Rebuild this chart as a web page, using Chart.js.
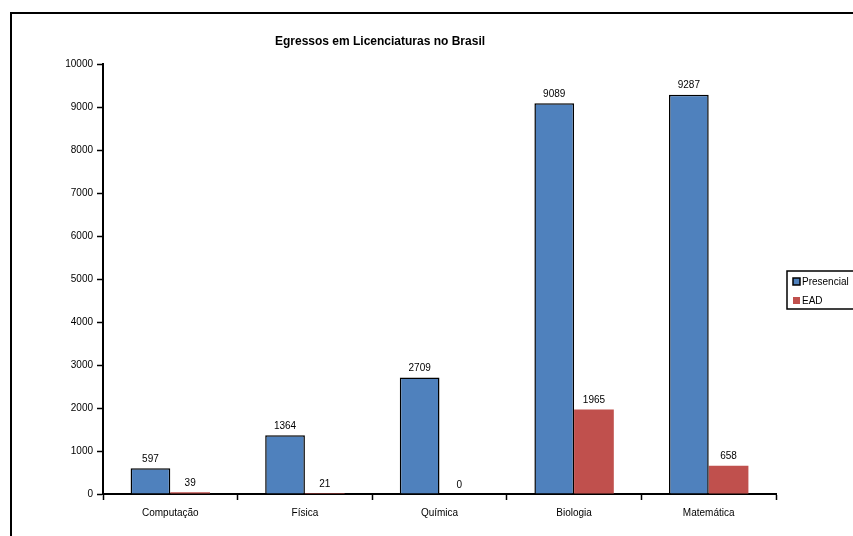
<!DOCTYPE html>
<html lang="pt">
<head>
    <meta charset="UTF-8">
    <title>Egressos em Licenciaturas no Brasil</title>
    <script src="https://cdn.jsdelivr.net/npm/chart.js"></script>
    <style>
        body { margin: 0; padding: 0; background: #fff; }
        .wrap { width: 853px; height: 536px; position: relative; }
    </style>
</head>
<body>
    <div class="wrap">
        <canvas id="chart" width="853" height="536"></canvas>
    </div>

    <script>
        var cursos = ['Computação', 'Física', 'Química', 'Biologia', 'Matemática'];
        var presencial = [597, 1364, 2709, 9089, 9287];
        var ead = [39, 21, 0, 1965, 658];
        var yTicks = [0, 1000, 2000, 3000, 4000, 5000, 6000, 7000, 8000, 9000, 10000];

        var FONT = "'Liberation Sans', Arial, sans-serif";

        // frame, title, value labels and the boxed legend
        var extras = {
            id: 'extras',
            beforeDraw: function(chart) {
                var c = chart.ctx;
                c.save();
                c.fillStyle = '#fff';
                c.fillRect(0, 0, chart.width, chart.height);
                c.strokeStyle = '#000';
                c.lineWidth = 2;
                c.strokeRect(11, 13, 900, 600);
                c.restore();
            },
            afterDatasetsDraw: function(chart) {
                var c = chart.ctx;
                c.save();
                c.fillStyle = '#000';
                c.font = 'bold 12px ' + FONT;
                c.textAlign = 'center';
                c.textBaseline = 'middle';
                c.fillText('Egressos em Licenciaturas no Brasil', 380, 42);

                c.font = '10px ' + FONT;
                c.textBaseline = 'bottom';
                chart.data.datasets.forEach(function(ds, i) {
                    chart.getDatasetMeta(i).data.forEach(function(bar, j) {
                        c.fillText(String(ds.data[j]), bar.x, bar.y - 4);
                    });
                });

                // legend
                c.lineWidth = 1.5;
                c.strokeStyle = '#000';
                c.strokeRect(787, 271, 80, 38);
                c.textAlign = 'left';
                c.textBaseline = 'middle';
                chart.data.datasets.forEach(function(ds, i) {
                    var y = 281 + i * 19;
                    c.fillStyle = ds.backgroundColor;
                    c.fillRect(793, y - 3, 7, 7);
                    if (ds.borderWidth) {
                        c.lineWidth = 1.5;
                        c.strokeRect(793, y - 3, 7, 7);
                    }
                    c.fillStyle = '#000';
                    c.fillText(ds.label, 802, y + 1);
                });
                c.restore();
            }
        };

        var ctx = document.getElementById('chart').getContext('2d');
        new Chart(ctx, {
            type: 'bar',
            data: {
                labels: cursos,
                datasets: [{
                    label: 'Presencial',
                    data: presencial,
                    backgroundColor: '#4F81BD',
                    borderColor: '#000',
                    borderWidth: 1.5
                }, {
                    label: 'EAD',
                    data: ead,
                    backgroundColor: '#C0504D',
                    borderWidth: 0
                }]
            },
            options: {
                responsive: false,
                animation: false,
                layout: { padding: { left: 0, right: 77, top: 64, bottom: 0 } },
                datasets: { bar: { categoryPercentage: 0.59, barPercentage: 1 } },
                plugins: {
                    legend: { display: false },
                    title: { display: false },
                    tooltip: { enabled: false }
                },
                scales: {
                    x: {
                        afterFit: function(s) { s.height = 42; },
                        grid: {
                            drawOnChartArea: false,
                            color: '#000',
                            tickLength: 6,
                            tickWidth: 1.5
                        },
                        border: { color: '#000', width: 2 },
                        ticks: {
                            color: '#000',
                            padding: 7,
                            font: { family: FONT, size: 10 }
                        }
                    },
                    y: {
                        min: 0,
                        max: 10000,
                        afterFit: function(s) { s.width = 103; },
                        afterBuildTicks: function(s) {
                            s.ticks = yTicks.map(function(v) { return { value: v }; });
                        },
                        grid: {
                            drawOnChartArea: false,
                            color: '#000',
                            tickLength: 6,
                            tickWidth: 1.5
                        },
                        border: { color: '#000', width: 2 },
                        ticks: {
                            color: '#000',
                            padding: 4,
                            font: { family: FONT, size: 10 },
                            callback: function(v) { return String(v); }
                        }
                    }
                }
            },
            plugins: [extras]
        });
    </script>
</body>
</html>
